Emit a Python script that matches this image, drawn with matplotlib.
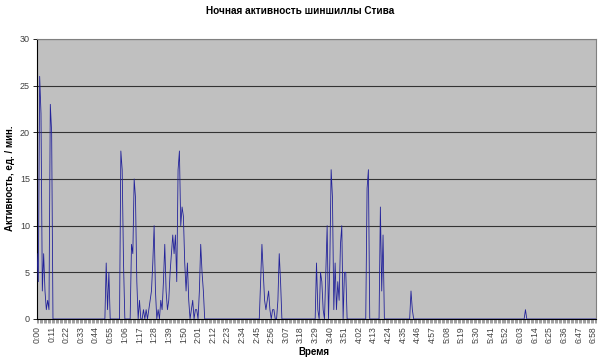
import matplotlib
matplotlib.use("Agg")
import matplotlib.pyplot as plt
import numpy as np

# ---- data (activity per minute; minutes not listed are 0) ----
total_minutes = 421
burst_start = [0, 51, 62, 70, 167, 208, 247, 257, 280, 366]
burst_values = [
    [7, 4, 26, 22, 3, 7, 3, 1, 2, 1, 23, 20, 0],
    [0, 6, 1, 5, 0],
    [0, 18, 16, 6, 0],
    [0, 8, 7, 15, 13, 4, 0, 2, 0, 0, 1, 0, 1, 0, 1, 2, 3, 6, 10, 3, 0, 1, 0,
     2, 1, 4, 8, 3, 1, 2, 5, 7, 9, 7, 9, 4, 16, 18, 10, 12, 11, 6, 3, 6, 2,
     0, 1, 2, 0, 1, 1, 0, 3, 8, 5, 3, 0],
    [0, 4, 8, 5, 2, 1, 2, 3, 1, 0, 1, 1, 0, 0, 2, 7, 4, 0],
    [0, 0, 6, 1, 0, 5, 4, 1, 0, 5, 10, 0, 6, 16, 13, 1, 6, 1, 4, 2, 8, 10,
     0, 5, 5, 0],
    [0, 14, 16, 0],
    [0, 12, 3, 9, 0],
    [0, 3, 1, 0],
    [0, 1, 0],
]
label_step = 11
last_label = 418

title = "Ночная активность шиншиллы Стива"
xlabel = "Время"
ylabel = "Активность, ед. / мин."

activity = np.zeros(total_minutes)
for s, vals in zip(burst_start, burst_values):
    activity[s:s + len(vals)] = vals
minutes = np.arange(total_minutes)

tick_pos = list(range(0, last_label + 1, label_step))
tick_lab = [f"{m // 60}:{m % 60:02d}" for m in tick_pos]

plt.rcParams['font.family'] = ['Liberation Sans', 'DejaVu Sans']

fig = plt.figure(figsize=(6, 3.6), dpi=100)
ax = fig.add_axes([37 / 600, 1 - 319 / 360, 559 / 600, 280 / 360])
ax.set_facecolor('#C0C0C0')

for yv in range(5, 31, 5):
    ax.axhline(yv, color='#333333', lw=0.8, zorder=1)

ax.plot(minutes, activity, color='#22229a', lw=0.6, zorder=3)

ax.set_xlim(0, total_minutes - 1)
ax.set_ylim(0, 30)
ax.set_yticks(range(0, 31, 5))
ax.set_xticks(tick_pos)
ax.set_xticklabels(tick_lab, rotation=90, fontsize=6.2, color='#404040')
ax.set_xticks(minutes, minor=True)
ax.tick_params(axis='x', which='both', length=3, width=0.4, color='#555555', pad=2)
ax.tick_params(axis='y', length=3, width=0.6, labelsize=6.5, labelcolor='#404040', pad=2)

for side in ['top', 'right']:
    ax.spines[side].set_color('#808080')
    ax.spines[side].set_linewidth(0.8)
ax.spines['left'].set_color('#000000')
ax.spines['left'].set_linewidth(0.8)
ax.spines['bottom'].set_color('#000000')
ax.spines['bottom'].set_linewidth(0.8)

fig.text(300 / 600, 1 - 11 / 360, title, ha='center', va='center', fontsize=7.2, fontweight='bold')
fig.text(314 / 600, 1 - 352 / 360, xlabel, ha='center', va='center', fontsize=7, fontweight='bold')
fig.text(10 / 600, 1 - 178 / 360, ylabel, ha='center', va='center', fontsize=7, fontweight='bold', rotation=90)

fig.savefig('out.png', dpi=100)
